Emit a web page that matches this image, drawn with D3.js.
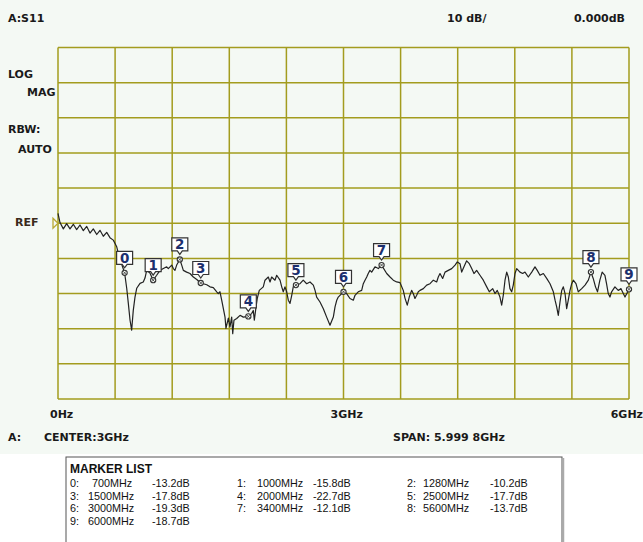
<!DOCTYPE html>
<html>
<head>
<meta charset="utf-8">
<script src="https://cdn.jsdelivr.net/npm/d3@7"></script>
<style>
  html, body { margin: 0; padding: 0; background: #ffffff; }
  svg { display: block; }
</style>
</head>
<body>
<svg id="chart" width="643" height="542"></svg>
<script>
// ---------- data ----------
const traceFreqMHz = [0,21,56,91,126,161,196,231,266,302,336,371,407,441,476,512,546,581,617,634,662,700,722,739,757,774,791,809,827,862,896,914,932,967,1000,1037,1072,1107,1142,1159,1195,1212,1229,1247,1280,1300,1317,1352,1387,1422,1458,1500,1527,1563,1597,1632,1668,1684,1702,1720,1755,1765,1790,1807,1825,1836,1849,1878,1913,1947,2000,2035,2052,2063,2081,2094,2115,2157,2175,2210,2228,2245,2280,2298,2333,2351,2367,2385,2403,2420,2438,2456,2472,2500,2543,2577,2613,2648,2683,2701,2718,2753,2788,2823,2858,2893,2911,2929,2945,2963,3000,3033,3068,3103,3121,3155,3191,3208,3226,3244,3260,3278,3296,3331,3366,3400,3454,3489,3523,3559,3594,3628,3646,3670,3691,3716,3733,3751,3769,3786,3804,3839,3874,3909,3944,3979,3996,4014,4042,4067,4101,4137,4172,4196,4224,4242,4266,4294,4322,4347,4371,4399,4434,4469,4505,4532,4568,4592,4616,4644,4662,4679,4697,4715,4732,4749,4767,4784,4802,4820,4854,4883,4907,4942,4978,5012,5036,5065,5100,5135,5170,5205,5223,5240,5257,5275,5293,5310,5328,5345,5362,5380,5398,5415,5443,5467,5503,5538,5573,5600,5624,5648,5669,5694,5718,5747,5764,5782,5800,5817,5852,5887,5916,5940,5958,6000];
const traceDb = [2.8,0.2,-1.6,-0.1,-1.6,-0.3,-1.8,-0.5,-2.1,-0.9,-2.8,-1.6,-3.2,-2.0,-3.7,-2.6,-4.1,-4.8,-6.7,-8.6,-11.1,-14.1,-18.5,-22.8,-27.6,-30.4,-24.8,-21.0,-18.5,-17.1,-16.7,-15.6,-13.4,-14.2,-16.2,-14.8,-13.4,-12.9,-12.4,-12.9,-11.9,-12.9,-13.4,-11.9,-10.3,-11.9,-13.4,-13.9,-14.3,-15.3,-16.0,-17.0,-17.2,-17.5,-18.1,-18.3,-19.5,-20.0,-19.5,-21.9,-26.7,-29.9,-27.0,-29.5,-26.7,-31.4,-27.6,-27.1,-26.2,-26.7,-26.5,-25.7,-24.8,-27.6,-23.8,-21.4,-19.1,-18.1,-16.2,-15.3,-16.7,-15.3,-16.2,-14.8,-16.2,-18.1,-19.5,-18.1,-19.5,-21.9,-22.8,-20.5,-18.1,-17.6,-17.2,-16.2,-17.2,-16.7,-17.6,-19.1,-21.0,-22.4,-24.3,-26.7,-29.0,-26.7,-23.8,-21.9,-21.0,-20.5,-19.5,-20.0,-21.4,-21.9,-20.5,-19.5,-19.1,-17.2,-16.2,-15.3,-14.3,-13.4,-13.9,-12.4,-12.9,-11.9,-14.3,-15.3,-16.2,-16.7,-16.9,-19.1,-21.3,-23.3,-21.0,-19.1,-20.0,-21.4,-20.5,-19.5,-19.1,-18.6,-17.6,-17.2,-16.2,-16.7,-15.3,-14.3,-15.7,-13.9,-13.4,-12.9,-11.9,-11.0,-11.5,-13.9,-12.4,-10.7,-11.5,-12.9,-14.3,-13.4,-14.8,-16.2,-18.1,-19.5,-18.6,-20.0,-19.1,-21.0,-23.3,-20.5,-16.2,-13.9,-15.3,-18.6,-19.5,-17.6,-14.3,-12.9,-13.9,-14.3,-13.9,-15.3,-13.9,-12.4,-13.4,-14.8,-14.3,-15.7,-17.2,-19.5,-21.9,-23.8,-26.2,-22.4,-19.1,-18.1,-20.0,-24.3,-21.9,-19.1,-17.2,-16.2,-17.2,-19.5,-18.6,-17.6,-16.2,-13.9,-15.7,-18.1,-19.5,-16.2,-13.9,-14.8,-17.2,-20.0,-21.0,-19.5,-18.1,-19.1,-18.6,-20.0,-21.0,-18.8];

const markerIds   = [0,1,2,3,4,5,6,7,8,9];
const markerFreqs = [700,1000,1280,1500,2000,2500,3000,3400,5600,6000];
const markerDbs   = [-13.2,-15.8,-10.2,-17.8,-22.7,-17.7,-19.3,-12.1,-13.7,-18.7];

const xTickLabels = ["0Hz","3GHz","6GHz"];
const xTickValues = [0,3000,6000];
const leftLabels  = ["LOG","MAG","RBW:","AUTO"];

// ---------- layout ----------
const svg = d3.select("#chart");
const plot = {left: 58, right: 629, top: 47.5, bottom: 399};
const x = d3.scaleLinear().domain([0, 6000]).range([plot.left, plot.right]);
const y = d3.scaleLinear().domain([-50, 50]).range([plot.bottom, plot.top]);

const gridColor = "#a39c1e";
const instFont = "'DejaVu Sans', sans-serif";

// instrument background
svg.append("rect").attr("x",0).attr("y",0).attr("width",643).attr("height",454).attr("fill","#f4f9f4");

// grid
const g = svg.append("g");
g.selectAll("line.v").data(d3.range(0, 6001, 600)).join("line")
  .attr("x1", d => x(d)).attr("x2", d => x(d))
  .attr("y1", plot.top).attr("y2", plot.bottom)
  .attr("stroke", gridColor).attr("stroke-width", 1.5);
g.selectAll("line.h").data(d3.range(-50, 51, 10)).join("line")
  .attr("x1", plot.left).attr("x2", plot.right)
  .attr("y1", d => y(d)).attr("y2", d => y(d))
  .attr("stroke", gridColor).attr("stroke-width", 1.5);

// header texts
function inst(txt, xx, yy, anchor, color) {
  svg.append("text").attr("x", xx).attr("y", yy).text(txt)
    .attr("font-family", instFont).attr("font-weight", "bold")
    .attr("font-size", 11).attr("fill", color || "#1a1a1a")
    .attr("text-anchor", anchor || "start");
}
inst("A:S11", 8, 22);
inst("10 dB/", 447, 22);
inst("0.000dB", 625, 22, "end");
inst(leftLabels[0], 8, 78);
inst(leftLabels[1], 27, 96);
inst(leftLabels[2], 8, 133);
inst(leftLabels[3], 18, 153);
inst("REF", 15, 226, "start", "#3a2a1a");

// REF triangle
svg.append("path")
  .attr("d", `M${plot.left-5},${y(0)-5} L${plot.left},${y(0)} L${plot.left-5},${y(0)+5} Z`)
  .attr("fill", "none").attr("stroke", "#b8a832").attr("stroke-width", 1.3);

// x labels
xTickValues.forEach((v, i) => {
  inst(xTickLabels[i], i === 2 ? 643 : x(v) - (i === 0 ? 8 : 13), 418, i === 2 ? "end" : "start");
});
inst("A:", 8, 441);
inst("CENTER:3GHz", 44, 441);
inst("SPAN: 5.999 8GHz", 393, 441);

// trace
const trace = traceFreqMHz.map((f, i) => [f, traceDb[i]]);
svg.append("path").datum(trace)
  .attr("d", d3.line().x(d => x(d[0])).y(d => y(d[1])))
  .attr("fill", "none").attr("stroke", "#222").attr("stroke-width", 1.2)
  .attr("stroke-linejoin", "round");

// markers on trace
function traceAt(f) {
  const i = d3.bisector(d => d[0]).left(trace, f);
  if (i <= 0) return trace[0][1];
  if (i >= trace.length) return trace[trace.length-1][1];
  const a = trace[i-1], b = trace[i];
  if (b[0] === f) return b[1];
  return a[1] + (b[1]-a[1]) * (f - a[0]) / (b[0]-a[0]);
}
const mk = svg.append("g");
markerIds.forEach((id, i) => {
  const cx = x(markerFreqs[i]), cy = y(traceAt(markerFreqs[i]));
  const grp = mk.append("g").attr("transform", `translate(${cx},${cy})`);
  grp.append("circle").attr("r", 2.6).attr("fill", "#f4f9f4").attr("stroke", "#333").attr("stroke-width", 1.1);
  grp.append("path").attr("d", "M-1.6,-1.6L1.6,1.6M-1.6,1.6L1.6,-1.6").attr("stroke", "#333").attr("stroke-width", 0.8);
  grp.append("path")
    .attr("d", "M-8,-21.5 L8,-21.5 L8,-8.5 L2.5,-8.5 L0,-5 L-2.5,-8.5 L-8,-8.5 Z")
    .attr("fill", "#ffffff").attr("stroke", "#333").attr("stroke-width", 1.2);
  grp.append("text").attr("x", 0).attr("y", -10).text(id)
    .attr("text-anchor", "middle").attr("font-family", "'DejaVu Sans', sans-serif")
    .attr("font-size", 13.5).attr("font-weight", "bold").attr("fill", "#1c2f6e");
});

// marker list box
const lf = "'Liberation Sans', Arial, sans-serif";
svg.append("rect").attr("x", 66).attr("y", 457).attr("width", 496).attr("height", 100)
  .attr("fill", "#fff").attr("stroke", "#555").attr("stroke-width", 1);
svg.append("line").attr("x1", 563.5).attr("x2", 563.5).attr("y1", 458).attr("y2", 542)
  .attr("stroke", "#aaa").attr("stroke-width", 1.5);
svg.append("text").attr("x", 70).attr("y", 473).text("MARKER LIST")
  .attr("font-family", lf).attr("font-weight", "bold").attr("font-size", 12).attr("fill", "#111");
const colX = [{id: 70, f: 88, db: 152}, {id: 237, f: 257, db: 313}, {id: 407, f: 423, db: 490}];
const rowY = [487, 499.5, 512, 524.5];
markerIds.forEach((id, i) => {
  const c = colX[i % 3], r = rowY[Math.floor(i / 3)];
  const t = (s, xx) => svg.append("text").attr("x", xx).attr("y", r).text(s)
    .attr("font-family", lf).attr("font-size", 10.8).attr("fill", "#111");
  t(id + ":", c.id);
  const fs = markerFreqs[i] + "MHz";
  t(fs, markerFreqs[i] < 1000 ? c.f + 4 : c.f);
  t(markerDbs[i].toFixed(1) + "dB", c.db);
});
</script>
</body>
</html>
